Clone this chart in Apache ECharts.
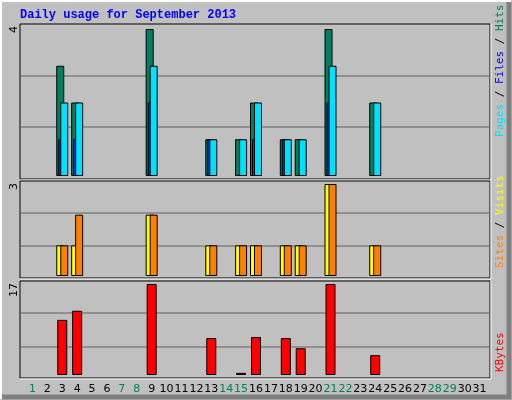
<!DOCTYPE html>
<html><head><meta charset="utf-8">
<script src="https://cdn.jsdelivr.net/npm/echarts@6/dist/echarts.min.js"></script>
<style>html,body{margin:0;padding:0;background:#C0C0C0}#c{width:512px;height:400px}</style>
</head><body><div id="c"></div>
<script>
const days = Array.from({length:31},(_,i)=>String(i+1));
const weekendDays = ['1','7','8','14','15','21','22','28','29'];
const hits   = [0,0,3,2,0,0,0,0,4,0,0,0,1,0,1,2,0,1,1,0,4,0,0,2,0,0,0,0,0,0,0];
const files  = [0,0,2,2,0,0,0,0,3,0,0,0,1,0,1,2,0,1,1,0,3,0,0,2,0,0,0,0,0,0,0];
const pages  = [0,0,1,1,0,0,0,0,2,0,0,0,1,0,0,1,0,1,0,0,2,0,0,0,0,0,0,0,0,0,0];
const sites  = [0,0,1,1,0,0,0,0,2,0,0,0,1,0,1,1,0,1,1,0,3,0,0,1,0,0,0,0,0,0,0];
const visits = [0,0,1,2,0,0,0,0,2,0,0,0,1,0,1,1,0,1,1,0,3,0,0,1,0,0,0,0,0,0,0];
const kbytes = [0,0,10.3,12.0,0,0,0,0,17,0,0,0,6.9,0,0.4,7.1,0,6.9,5.0,0,17,0,0,3.7,0,0,0,0,0,0,0];
const maxLabels = ['4','3','17'];

const nz = a => a.map(v => v === 0 ? '-' : v);
const chart = echarts.init(document.getElementById('c'));
const L=25, R=25;
const bs = {borderColor:'#000',borderWidth:1};
function xa(i,show){return {type:'category',data:days,gridIndex:i,axisLine:{show:false},axisTick:{show:false},
  axisLabel:{show:show,interval:0,margin:9,fontFamily:'DejaVu Sans',fontSize:11,
   color:function(v){return weekendDays.includes(v)?'#00805C':'#000';}}};}
function ya(i,max){return {type:'value',gridIndex:i,min:0,max:max,show:false,splitLine:{show:false}};}
const panels=[[24,179],[181,278],[281,378]];
const gl=[76,127,213,246,313,347];
const graphic=[
  {type:'rect',shape:{x:0,y:0,width:512,height:400},style:{fill:'#C0C0C0'},z:-10},
  {type:'polyline',shape:{points:[[1,399],[1,1],[511,1]]},style:{stroke:'#fff',lineWidth:2,fill:null},z:-9},
  {type:'polyline',shape:{points:[[509,2],[509,397],[2,397]]},style:{stroke:'#808080',lineWidth:5,fill:null},z:-9},
  {type:'text',left:20,top:9,style:{text:'Daily usage for September 2013',fill:'#0000FF',font:'bold 12px "Liberation Mono", "DejaVu Sans Mono", monospace'},z:5}
];
panels.forEach(p=>{
  graphic.push({type:'rect',shape:{x:20,y:p[0],width:470,height:p[1]-p[0]},style:{fill:'#C0C0C0',stroke:'#000',lineWidth:1},z:-5});
  graphic.push({type:'line',shape:{x1:20,y1:p[1]+1,x2:491,y2:p[1]+1},style:{stroke:'#fff',lineWidth:1},z:-5});
  graphic.push({type:'line',shape:{x1:491,y1:p[0],x2:491,y2:p[1]+1},style:{stroke:'#fff',lineWidth:1},z:-5});
});
gl.forEach(y=>graphic.push({type:'line',shape:{x1:21,y1:y,x2:489,y2:y},style:{stroke:'#808080',lineWidth:1.5},z:-4}));
const mono='11px "DejaVu Sans Mono", monospace';
[[24,0],[181,1],[281,2]].forEach(a=>graphic.push({type:'text',x:14,y:a[0]+2,rotation:Math.PI/2,
  style:{text:maxLabels[a[1]],fill:'#000',font:'11px "DejaVu Sans"',align:'right',verticalAlign:'middle'},z:5}));
function rtext(y,parts){
  const rich={s:{fill:'#000',font:mono}};
  parts.forEach((p,i)=>rich['p'+i]={fill:p[1],font:mono});
  graphic.push({type:'text',x:500,y:y,rotation:Math.PI/2,
   style:{rich:rich,text:parts.map((p,i)=>'{p'+i+'|'+p[0]+'}').join('{s| / }'),align:'left',verticalAlign:'middle'},z:5});
}
rtext(137,[['Pages','#00E0FF'],['Files','#0000FF'],['Hits','#00805C']]);
rtext(268,[['Sites','#FF8000'],['Visits','#FFFF00']]);
rtext(372,[['KBytes','#FF0000']]);
chart.setOption({
  backgroundColor:'#C0C0C0',animation:false,
  graphic:graphic,
  grid:[{left:L,right:R,top:29,height:147},{left:L,right:R,top:184,height:92},{left:L,right:R,top:284,height:91}],
  xAxis:[xa(0,false),xa(1,false),xa(2,true)],
  yAxis:[ya(0,4),ya(1,3),ya(2,17)],
  series:[
    {type:'bar',name:'Hits',data:nz(hits),xAxisIndex:0,yAxisIndex:0,barWidth:8,barGap:'-75%',itemStyle:Object.assign({color:'#00805C'},bs)},
    {type:'bar',name:'Pages',data:nz(pages),xAxisIndex:0,yAxisIndex:0,barWidth:8,barGap:'-75%',itemStyle:Object.assign({color:'#0040FF'},bs)},
    {type:'bar',name:'Files',data:nz(files),xAxisIndex:0,yAxisIndex:0,barWidth:8,barGap:'-75%',itemStyle:Object.assign({color:'#00E0FF'},bs)},
    {type:'bar',name:'Sites',data:nz(sites),xAxisIndex:1,yAxisIndex:1,barWidth:8,barGap:'-50%',itemStyle:Object.assign({color:'#FFFF00'},bs)},
    {type:'bar',name:'Visits',data:nz(visits),xAxisIndex:1,yAxisIndex:1,barWidth:8,barGap:'-50%',itemStyle:Object.assign({color:'#FF8000'},bs)},
    {type:'bar',name:'KBytes',data:nz(kbytes),xAxisIndex:2,yAxisIndex:2,barWidth:10,itemStyle:Object.assign({color:'#FF0000'},bs)}
  ]
});
</script></body></html>
